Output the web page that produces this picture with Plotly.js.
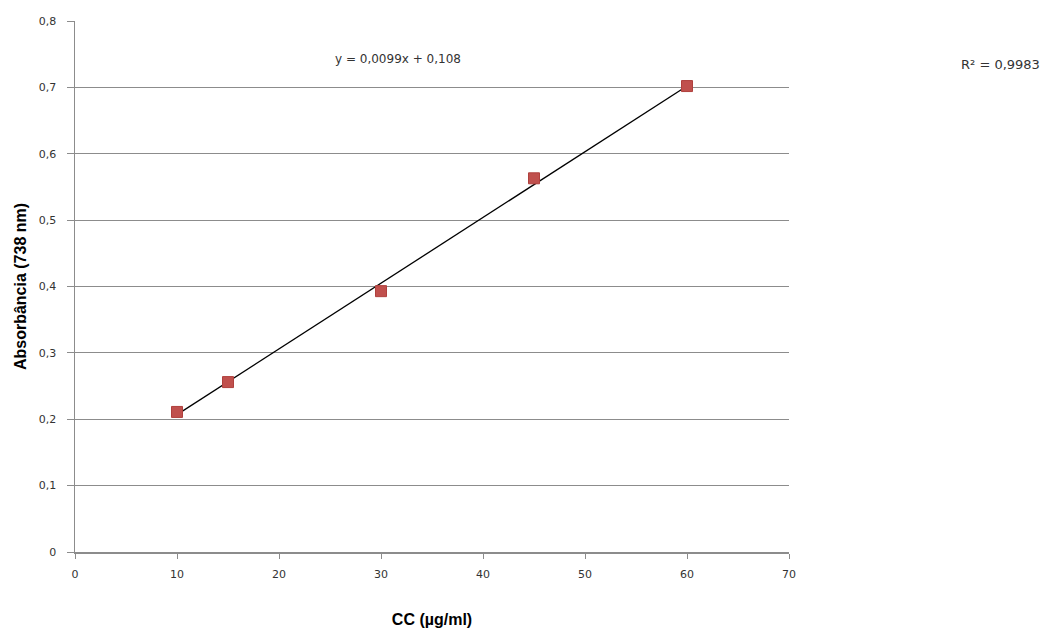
<!DOCTYPE html>
<html>
<head>
<meta charset="utf-8">
<script src="https://cdn.plot.ly/plotly-3.0.1.min.js"></script>
<style>html,body{margin:0;padding:0;background:#fff;}#chart{width:1048px;height:638px;}</style>
</head>
<body>
<div id="chart"></div>
<script>
const concentrations = [10, 15, 30, 45, 60];
const absorbance = [0.211, 0.256, 0.393, 0.563, 0.702];
const slope = 0.0099;
const intercept = 0.108;
const fitRange = [10, 60];
const equationText = 'y = 0,0099x + 0,108';
const r2Text = 'R² = 0,9983';

const fitY = fitRange.map(x => slope * x + intercept);

const traces = [
  {
    x: fitRange, y: fitY, mode: 'lines', type: 'scatter',
    line: {color: '#000000', width: 1.3}, hoverinfo: 'skip', showlegend: false
  },
  {
    x: concentrations, y: absorbance, mode: 'markers', type: 'scatter',
    marker: {symbol: 'square', size: 11, color: '#c0504d', line: {color: '#b0403d', width: 1}},
    showlegend: false
  }
];

const tickFont = {family: 'DejaVu Sans, sans-serif', size: 11, color: '#333333'};

const layout = {
  width: 1048, height: 638,
  margin: {l: 75, r: 259, t: 21, b: 86},
  paper_bgcolor: '#ffffff', plot_bgcolor: '#ffffff',
  separators: ',.',
  font: {family: 'DejaVu Sans, sans-serif', size: 11, color: '#333333'},
  xaxis: {
    range: [0, 70], dtick: 10, tick0: 0,
    showgrid: false, zeroline: false,
    showline: true, linecolor: '#8c8c8c', linewidth: 1.5,
    ticks: 'outside', ticklen: 5, tickcolor: '#8c8c8c',
    ticklabelstandoff: 6,
    tickfont: tickFont,
    title: {text: 'CC (µg/ml)', font: {family: 'Liberation Sans, Arial, sans-serif', size: 16, color: '#000000', weight: 'bold'}, standoff: 34}
  },
  yaxis: {
    range: [0, 0.8], dtick: 0.1, tick0: 0,
    showgrid: true, gridcolor: '#8c8c8c', gridwidth: 1,
    zeroline: false,
    showline: true, linecolor: '#8c8c8c', linewidth: 1.5,
    ticks: 'outside', ticklen: 7, tickcolor: '#8c8c8c',
    ticklabelstandoff: 8,
    tickfont: tickFont,
    title: {text: 'Absorbância (738 nm)', font: {family: 'Liberation Sans, Arial, sans-serif', size: 16, color: '#000000', weight: 'bold'}, standoff: 8}
  },
  annotations: [
    {text: equationText, xref: 'paper', yref: 'paper', x: (398 - 75) / 714, y: (552 - 59) / 531,
     xanchor: 'center', yanchor: 'middle', showarrow: false, font: {family: 'DejaVu Sans, sans-serif', size: 12, color: '#333333'}},
    {text: r2Text, xref: 'paper', yref: 'paper', x: (1000 - 75) / 714, y: (552 - 65) / 531,
     xanchor: 'center', yanchor: 'middle', showarrow: false, font: {family: 'DejaVu Sans, sans-serif', size: 13, color: '#333333'}}
  ]
};

Plotly.newPlot('chart', traces, layout, {displayModeBar: false, staticPlot: true});
</script>
</body>
</html>
